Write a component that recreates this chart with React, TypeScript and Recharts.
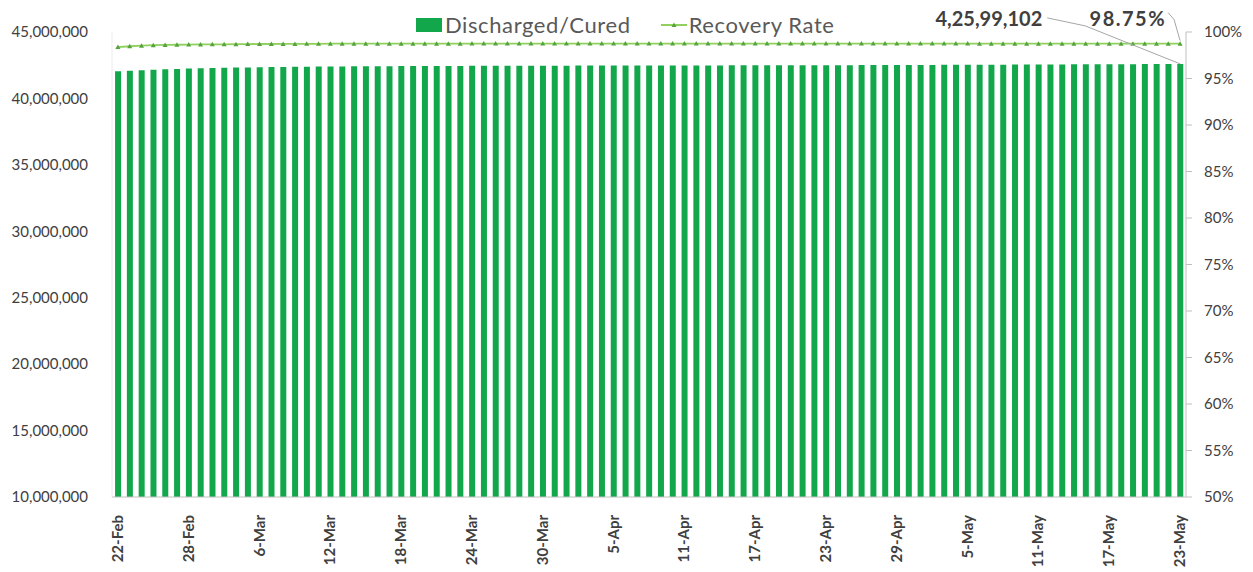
import React from 'react';
import { ComposedChart, Bar, Line, XAxis, YAxis, LabelList } from 'recharts';

const dates = [
  '22-Feb', '23-Feb', '24-Feb', '25-Feb', '26-Feb', '27-Feb', '28-Feb',
  '1-Mar', '2-Mar', '3-Mar', '4-Mar', '5-Mar', '6-Mar', '7-Mar', '8-Mar', '9-Mar', '10-Mar',
  '11-Mar', '12-Mar', '13-Mar', '14-Mar', '15-Mar', '16-Mar', '17-Mar', '18-Mar', '19-Mar', '20-Mar',
  '21-Mar', '22-Mar', '23-Mar', '24-Mar', '25-Mar', '26-Mar', '27-Mar', '28-Mar', '29-Mar', '30-Mar', '31-Mar',
  '1-Apr', '2-Apr', '3-Apr', '4-Apr', '5-Apr', '6-Apr', '7-Apr', '8-Apr', '9-Apr', '10-Apr',
  '11-Apr', '12-Apr', '13-Apr', '14-Apr', '15-Apr', '16-Apr', '17-Apr', '18-Apr', '19-Apr', '20-Apr',
  '21-Apr', '22-Apr', '23-Apr', '24-Apr', '25-Apr', '26-Apr', '27-Apr', '28-Apr', '29-Apr', '30-Apr',
  '1-May', '2-May', '3-May', '4-May', '5-May', '6-May', '7-May', '8-May', '9-May', '10-May',
  '11-May', '12-May', '13-May', '14-May', '15-May', '16-May', '17-May', '18-May', '19-May', '20-May',
  '21-May', '22-May', '23-May',
];

const discharged = [
  42037536, 42082000, 42124000, 42162000, 42195000, 42224000, 42249000,
  42270000, 42289000, 42306000, 42322000, 42336000, 42349000, 42360000, 42370000, 42379000, 42387000,
  42394000, 42401000, 42407000, 42413000, 42418000, 42423000, 42428000, 42432000, 42436000, 42440000,
  42443000, 42446000, 42449000, 42452000, 42455000, 42457000, 42459000, 42461000, 42463000, 42465000, 42467000,
  42469000, 42471000, 42473000, 42474500, 42476000, 42477500, 42479000, 42480400, 42481800, 42483000,
  42484200, 42485400, 42486600, 42487800, 42489000, 42490200, 42491300, 42492500, 42494000, 42495600,
  42497300, 42499000, 42501000, 42503000, 42505000, 42507200, 42509500, 42512000, 42514600, 42517300,
  42520000, 42523200, 42526500, 42530000, 42533600, 42537200, 42540800, 42544300, 42547800, 42551000,
  42554200, 42557300, 42560300, 42563300, 42566200, 42569200, 42572200, 42575400, 42578600, 42582000,
  42585600, 42592000, 42599102,
];

const recoveryRate = [
  98.38, 98.47, 98.53, 98.58, 98.61, 98.63, 98.65,
  98.66, 98.67, 98.68, 98.69, 98.70, 98.71, 98.71, 98.72, 98.72, 98.73,
  98.73, 98.74, 98.74, 98.74, 98.75, 98.75, 98.75, 98.75, 98.75, 98.75,
  98.75, 98.75, 98.75, 98.76, 98.76, 98.76, 98.76, 98.76, 98.76, 98.76, 98.76,
  98.76, 98.76, 98.76, 98.76, 98.76, 98.76, 98.76, 98.76, 98.76, 98.76,
  98.76, 98.76, 98.76, 98.76, 98.76, 98.76, 98.76, 98.76, 98.76, 98.76,
  98.76, 98.76, 98.76, 98.76, 98.76, 98.76, 98.76, 98.76, 98.76, 98.76,
  98.76, 98.76, 98.76, 98.76, 98.76, 98.75, 98.75, 98.75, 98.75, 98.75,
  98.75, 98.75, 98.75, 98.75, 98.75, 98.75, 98.75, 98.75, 98.75, 98.75,
  98.75, 98.75, 98.75,
];

const leftTicks = [10000000, 15000000, 20000000, 25000000, 30000000, 35000000, 40000000, 45000000];
const rightTicks = [50, 55, 60, 65, 70, 75, 80, 85, 90, 95, 100];

const lastLabelCured = '4,25,99,102';
const lastLabelRate = '98.75%';

const data = dates.map((d, i) => ({ date: d, cured: discharged[i], rate: recoveryRate[i] }));
const lastIndex = data.length - 1;

const FONT = 'Lato, "Open Sans", sans-serif';
const BAR_GREEN = '#13a74b';
const LINE_GREEN = '#8fd05e';
const MARK_GREEN = '#55a33c';

const DateTick = ({ x, y, payload }: any) => (
  <text
    transform={`translate(${x + 5},${y + 10}) rotate(-90)`}
    textAnchor="end"
    fontFamily={FONT}
    fontSize={15}
    fontWeight={700}
    fill="#404040"
  >
    {payload.value}
  </text>
);

const TriangleDot = ({ cx, cy }: any) => {
  if (cx == null || cy == null) return null;
  return <path d={`M${cx - 2.5},${cy + 2} L${cx},${cy - 2.5} L${cx + 2.5},${cy + 2} Z`} fill={MARK_GREEN} />;
};

const CuredLabel = (props: any) => {
  const { x, y, width, index } = props;
  if (index !== lastIndex) return null;
  const cx = x + width / 2;
  return (
    <g>
      <polyline points={`${cx},${y} ${cx - 95},${y - 38} ${cx - 133},${y - 46}`} fill="none" stroke="#a6a6a6" strokeWidth={1} />
      <text x={cx - 138} y={y - 38} textAnchor="end" fontFamily={FONT} fontSize={20} fontWeight={700} fill="#404040">
        {lastLabelCured}
      </text>
    </g>
  );
};

const RateLabel = (props: any) => {
  const { x, y, index } = props;
  if (index !== lastIndex) return null;
  return (
    <g>
      <polyline points={`${x},${y - 3} ${x - 6},${y - 24} ${x - 12},${y - 31}`} fill="none" stroke="#a6a6a6" strokeWidth={1} />
      <text x={x - 14} y={y - 18} textAnchor="end" fontFamily={FONT} fontSize={20} fontWeight={700} letterSpacing={1.5} fill="#404040">
        {lastLabelRate}
      </text>
    </g>
  );
};

const ChartLegend = () => (
  <div
    style={{
      position: 'absolute',
      top: 12,
      left: 416,
      display: 'flex',
      alignItems: 'center',
      fontFamily: FONT,
      fontSize: 22,
      letterSpacing: 0.6,
      color: '#595959',
      lineHeight: '26px',
    }}
  >
    <span style={{ display: 'inline-block', width: 26, height: 14, background: BAR_GREEN, marginRight: 3 }} />
    <span>Discharged/Cured</span>
    <svg width={26} height={12} style={{ marginLeft: 30, marginRight: 2 }}>
      <line x1={0} y1={6} x2={26} y2={6} stroke={LINE_GREEN} strokeWidth={2} />
      <path d="M10.5,8 L13,3.5 L15.5,8 Z" fill={MARK_GREEN} />
    </svg>
    <span>Recovery Rate</span>
  </div>
);

export default function App() {
  return (
    <div style={{ position: 'absolute', left: 0, top: 0, width: 1253, height: 572, background: '#fff' }}>
      <ComposedChart
        width={1253}
        height={572}
        data={data}
        margin={{ top: 32, right: 10, left: 0, bottom: 0 }}
        barCategoryGap="26%"
      >
        <XAxis
          dataKey="date"
          interval={5}
          tick={<DateTick />}
          tickLine={false}
          axisLine={{ stroke: '#bfbfbf' }}
          height={75}
        />
        <YAxis
          yAxisId="left"
          domain={[10000000, 45000000]}
          ticks={leftTicks}
          tickFormatter={(v: number) => v.toLocaleString('en-US')}
          tick={{ fontFamily: FONT, fontSize: 15, fill: '#404040' }}
          axisLine={{ stroke: '#ececec' }}
          tickLine={false}
          width={112}
          tickMargin={18}
          allowDataOverflow
        />
        <YAxis
          yAxisId="right"
          orientation="right"
          domain={[50, 100]}
          ticks={rightTicks}
          tickFormatter={(v: number) => `${v}%`}
          tick={{ fontFamily: FONT, fontSize: 15, fill: '#404040', textAnchor: 'start' }}
          axisLine={{ stroke: '#bfbfbf' }}
          tickLine={{ stroke: '#bfbfbf' }}
          tickSize={6}
          tickMargin={12}
          width={57}
        />
        <Bar yAxisId="left" dataKey="cured" name="Discharged/Cured" fill={BAR_GREEN} isAnimationActive={false}>
          <LabelList dataKey="cured" content={<CuredLabel />} />
        </Bar>
        <Line
          yAxisId="right"
          dataKey="rate"
          name="Recovery Rate"
          stroke={LINE_GREEN}
          strokeWidth={1.8}
          dot={<TriangleDot />}
          activeDot={false}
          isAnimationActive={false}
        >
          <LabelList dataKey="rate" content={<RateLabel />} />
        </Line>
      </ComposedChart>
      <ChartLegend />
    </div>
  );
}
